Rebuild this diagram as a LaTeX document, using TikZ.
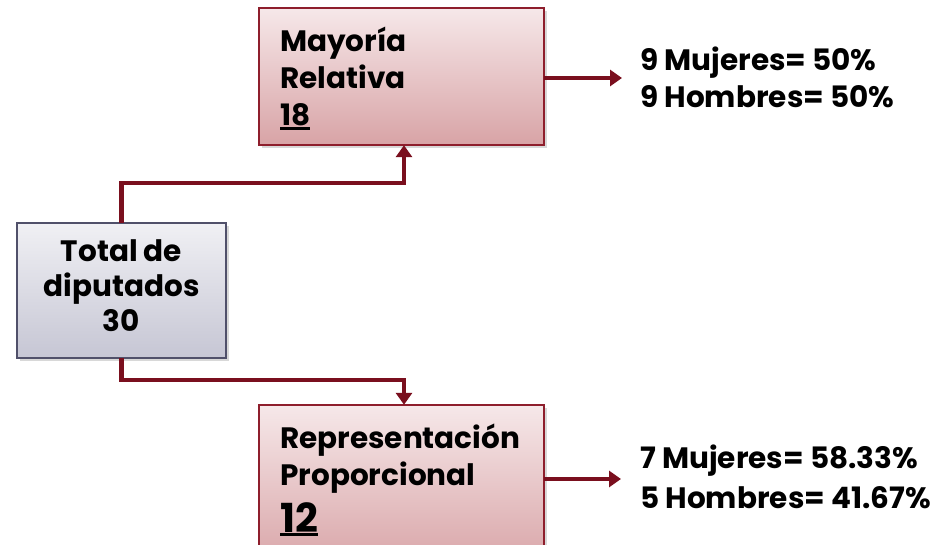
\documentclass[tikz,border=0pt]{standalone}
\usepackage{fontspec}
\setmainfont{Poppins}
\usetikzlibrary{arrows.meta,shadows}
\definecolor{linered}{HTML}{7A0F1E}
\definecolor{boxborder}{HTML}{8E1E2C}
\definecolor{redtop}{HTML}{F6E8E9}
\definecolor{redbot}{HTML}{D8A3A6}
\definecolor{graytop}{HTML}{F0F0F4}
\definecolor{graybot}{HTML}{C6C6D4}
\definecolor{grayborder}{HTML}{50506A}
\newcommand\ulnum[1]{\setbox0\hbox{#1}\rlap{\rule[-4pt]{\wd0}{2.6pt}}\box0}
\tikzset{
  redbox/.style={draw=boxborder, line width=1.6pt, top color=redtop, bottom color=redbot,
    drop shadow={opacity=0.3, shadow xshift=3pt, shadow yshift=-3pt}},
  graybox/.style={draw=grayborder, line width=1.4pt, top color=graytop, bottom color=graybot,
    drop shadow={opacity=0.3, shadow xshift=3pt, shadow yshift=-3pt}},
  conn/.style={draw=linered, line width=4.8pt, -{Triangle[width=16pt,length=12pt]}},
  lbl/.style={inner sep=0pt, font=\bfseries\fontsize{29.5}{37}\selectfont},
}
\begin{document}
\begin{tikzpicture}[x=1pt,y=-1pt]
\useasboundingbox (0,0) rectangle (951,545);
\fill[white] (0,0) rectangle (951,545);
% boxes
\path[redbox] (259,8) rectangle (544,145);
\node[inner sep=0, minimum width=285pt, minimum height=137pt] (mr) at (401.5,76.5) {};
\path[redbox] (259,405) rectangle (544,570);
\node[inner sep=0, minimum width=285pt, minimum height=165pt] (rp) at (401.5,487.5) {};
\path[graybox] (17,223) rectangle (226,358);
\node[inner sep=0, minimum width=209pt, minimum height=135pt] (tot) at (121.5,290.5) {};
% connectors
\draw[conn] (tot.north) |- (404,183) -- (mr.south -| 404,0);
\draw[conn] (tot.south) |- (404,380) -- (rp.north -| 404,0);
\coordinate (mrend) at (622,78);
\coordinate (rpend) at (621,479);
\draw[conn] (mr.east |- mrend) -- (mrend);
\draw[conn] (rp.east |- rpend) -- (rpend);
% texts
\node[lbl, anchor=base west] (mrt) at (280,52) {\begin{tabular}[t]{@{}l@{}}Mayoría\\Relativa\\\ulnum{18}\end{tabular}};
\node[lbl, anchor=base west] (rpt) at (280,448) {\begin{tabular}[t]{@{}l@{}}Representación\\Proporcional\end{tabular}};
\node[inner sep=0pt, anchor=base west, font=\bfseries\fontsize{40}{44}\selectfont] (rpn) at (280,532) {\ulnum{12}};
\node[lbl, anchor=base] (tott) at (121.5,262) {\begin{tabular}[t]{@{}c@{}}Total de\\[-2pt]diputados\\[-2pt]30\end{tabular}};
\node[lbl, anchor=base west] (mrr) at (640,71) {\begin{tabular}[t]{@{}l@{}}9 Mujeres= 50\%\\9 Hombres= 50\%\end{tabular}};
\node[lbl, anchor=base west] (rpr) at (640,468) {\begin{tabular}[t]{@{}l@{}}7 Mujeres= 58.33\%\\[3pt]5 Hombres= 41.67\%\end{tabular}};
\end{tikzpicture}
\end{document}
